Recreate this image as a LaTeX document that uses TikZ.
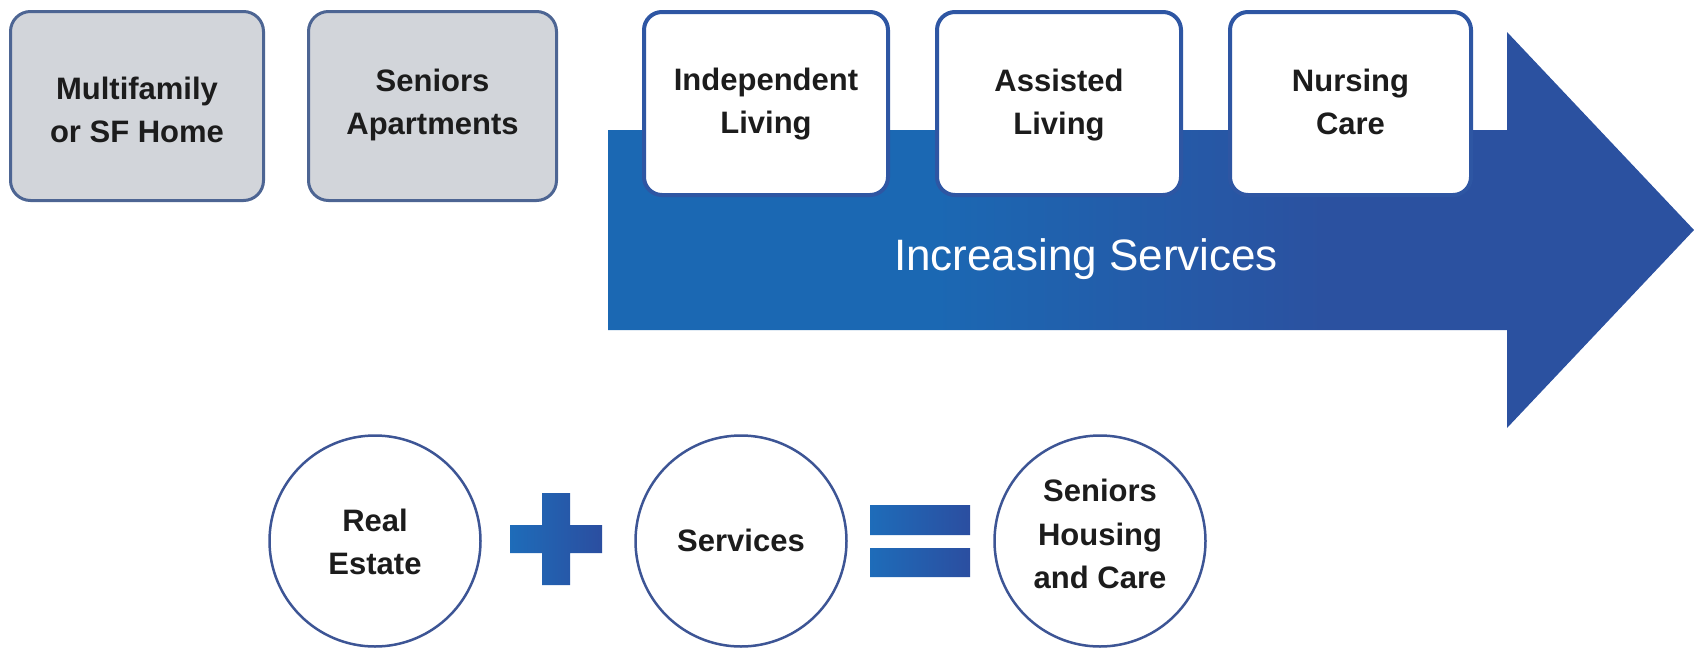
\documentclass[tikz,border=0pt]{standalone}
\usepackage{fontspec}
\setmainfont{Liberation Sans}

\definecolor{grayfill}{HTML}{D2D5DA}
\definecolor{grayedge}{HTML}{4D6593}
\definecolor{stageedge}{HTML}{2E56A3}
\definecolor{ringedge}{HTML}{3D5595}
\definecolor{textcol}{HTML}{1C1C1C}
\definecolor{arrowA}{HTML}{1B68B3}
\definecolor{arrowB}{HTML}{2B51A0}
\definecolor{signA}{HTML}{1E6CB9}
\definecolor{signB}{HTML}{2B4EA0}

% left-to-right blue blend of the big arrow (path box maps to 25bp..75bp)
\pgfdeclarehorizontalshading{arrowgrad}{100bp}{%
  color(0bp)=(arrowA); color(40bp)=(arrowA);
  color(58bp)=(arrowB); color(100bp)=(arrowB)}

\begin{document}
\begin{tikzpicture}[x=1pt, y=-1pt,
  graybox/.style={draw=grayedge, line width=3pt, fill=grayfill,
    rounded corners=20pt, minimum height=189pt, inner sep=0pt},
  stagebox/.style={draw=stageedge, line width=4pt, fill=white,
    rounded corners=18pt, minimum height=183pt, inner sep=0pt},
  ring/.style={circle, draw=ringedge, line width=2.5pt, fill=white,
    minimum size=211pt, inner sep=0pt},
  lbl/.style={align=center, text=textcol, inner sep=0pt,
    font=\bfseries\fontsize{31}{43.5}\selectfont},
  banner/.style={text=white, inner sep=0pt,
    font=\fontsize{44}{50}\selectfont}]

\useasboundingbox (0,0) rectangle (1694,648);

% housing options without services
\node[graybox, minimum width=253pt] (mf) at (137,106) {};
\node[lbl] (mf-t) at (137,110) {Multifamily\\or SF Home};
\node[graybox, minimum width=248pt] (sa) at (432.5,106) {};
\node[lbl] (sa-t) at (432.5,105) {Seniors\\Apartments};

% the services arrow
\shade[shading=arrowgrad]
  (608,130) -- (1507,130) -- (1507,32) -- (1694,230) -- (1507,428)
  -- (1507,330) -- (608,330) -- cycle;
\node[banner] (inc) at (1086,259) {Increasing Services};

% care levels sitting on the arrow
\node[stagebox, minimum width=244pt] (il) at (766,103.5) {};
\node[lbl] (il-t) at (766,104) {Independent\\Living};
\node[stagebox, minimum width=244pt] (al) at (1059,103.5) {};
\node[lbl] (al-t) at (1059,105) {Assisted\\Living};
\node[stagebox, minimum width=241pt] (nc) at (1350.5,103.5) {};
\node[lbl] (nc-t) at (1350.5,102) {Nursing\\Care};

% real estate + services = seniors housing
\node[ring] (re) at (375,541) {};
\node[lbl] (re-t) at (375,542) {Real\\Estate};
\node[ring] (sv) at (741,541) {};
\node[lbl] (sv-t) at (741,540) {Services};
\node[ring] (sh) at (1100,541) {};
\node[lbl] (sh-t) at (1100,534) {Seniors\\Housing\\and Care};

% plus sign
\shade[left color=signA, right color=signB]
  (542,493) -- (570,493) -- (570,525) -- (602,525) -- (602,553)
  -- (570,553) -- (570,585) -- (542,585) -- (542,553) -- (510,553)
  -- (510,525) -- (542,525) -- cycle;
% equals sign
\shade[left color=signA, right color=signB]
  (870,505) rectangle (970,535) (870,548) rectangle (970,577);
\end{tikzpicture}
\end{document}
